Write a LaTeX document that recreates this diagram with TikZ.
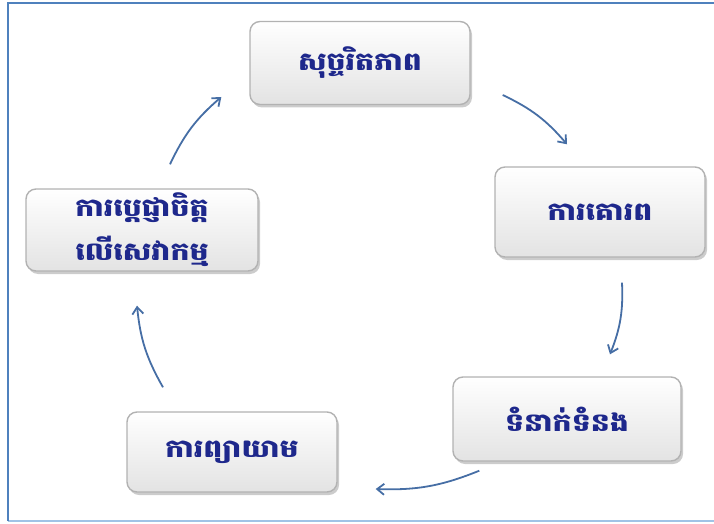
\documentclass[tikz,border=0pt]{standalone}
\usepackage{fontspec}
\newfontfamily\khmerfont[Script=Khmer,FakeStretch=1.2]{Battambang}
\usetikzlibrary{arrows.meta,shadows}
\definecolor{framedark}{RGB}{79,129,189}
\definecolor{framelight}{RGB}{160,195,230}
\definecolor{arrowblue}{RGB}{70,110,165}
\definecolor{textnavy}{RGB}{30,40,140}

\begin{document}
\begin{tikzpicture}[x=1pt,y=1pt,
    valuebox/.style={rounded corners=10pt,draw=gray!60,line width=1.4pt,
      top color=white,bottom color=gray!22,
      drop shadow={opacity=0.4,shadow xshift=2pt,shadow yshift=-3pt},
      font=\khmerfont\bfseries\fontsize{25}{44}\selectfont,text=textnavy,
      align=center,inner sep=0pt},
    cyclearrow/.style={-{Straight Barb[length=7pt,width=11pt]},arrowblue,
      line width=1.8pt,bend left=12}]
                    \useasboundingbox (0,0) rectangle (714,523);
                    % frame
                    \draw [framelight,line width=1.5pt] (8,2) -- (714,2);
                    \draw [framedark,line width=2pt] (8,2) -- (8,520) -- (714,520);
                    % the five values
                    \node [valuebox,minimum width=220,minimum height=83] (integ) at (360,460) {សុច្ចរិតភាព};
                    \node [valuebox,minimum width=210,minimum height=90] (respect) at (600,311) {ការគោរព};
                    \node [valuebox,minimum width=228,minimum height=84] (relation) at (567,104) {ទំនាក់ទំនង};
                    \node [valuebox,minimum width=210,minimum height=80] (effort) at (232,71) {ការព្យាយាម};
                    \node [valuebox,minimum width=232,minimum height=82] (commit) at (142,293) {ការប្តេជ្ញាចិត្ត\\លើសេវាកម្ម};
                    % arrows round the cycle
                    \draw [cyclearrow] ([shift={(32,-32)}]integ.east) to ([shift={(-33,22)}]respect.north);
                    \draw [cyclearrow] ([shift={(22,-25)}]respect.south) to ([shift={(43,22)}]relation.north);
                    \draw [cyclearrow] ([shift={(27,-9)}]relation.south west) to ([shift={(38,-37)}]effort.east);
                    \draw [cyclearrow] ([shift={(-69,24)}]effort.north) to ([shift={(-5,-34)}]commit.south);
                    \draw [cyclearrow] ([shift={(28,24)}]commit.north) to ([shift={(-28,-34)}]integ.west);
                \end{tikzpicture}
\end{document}
